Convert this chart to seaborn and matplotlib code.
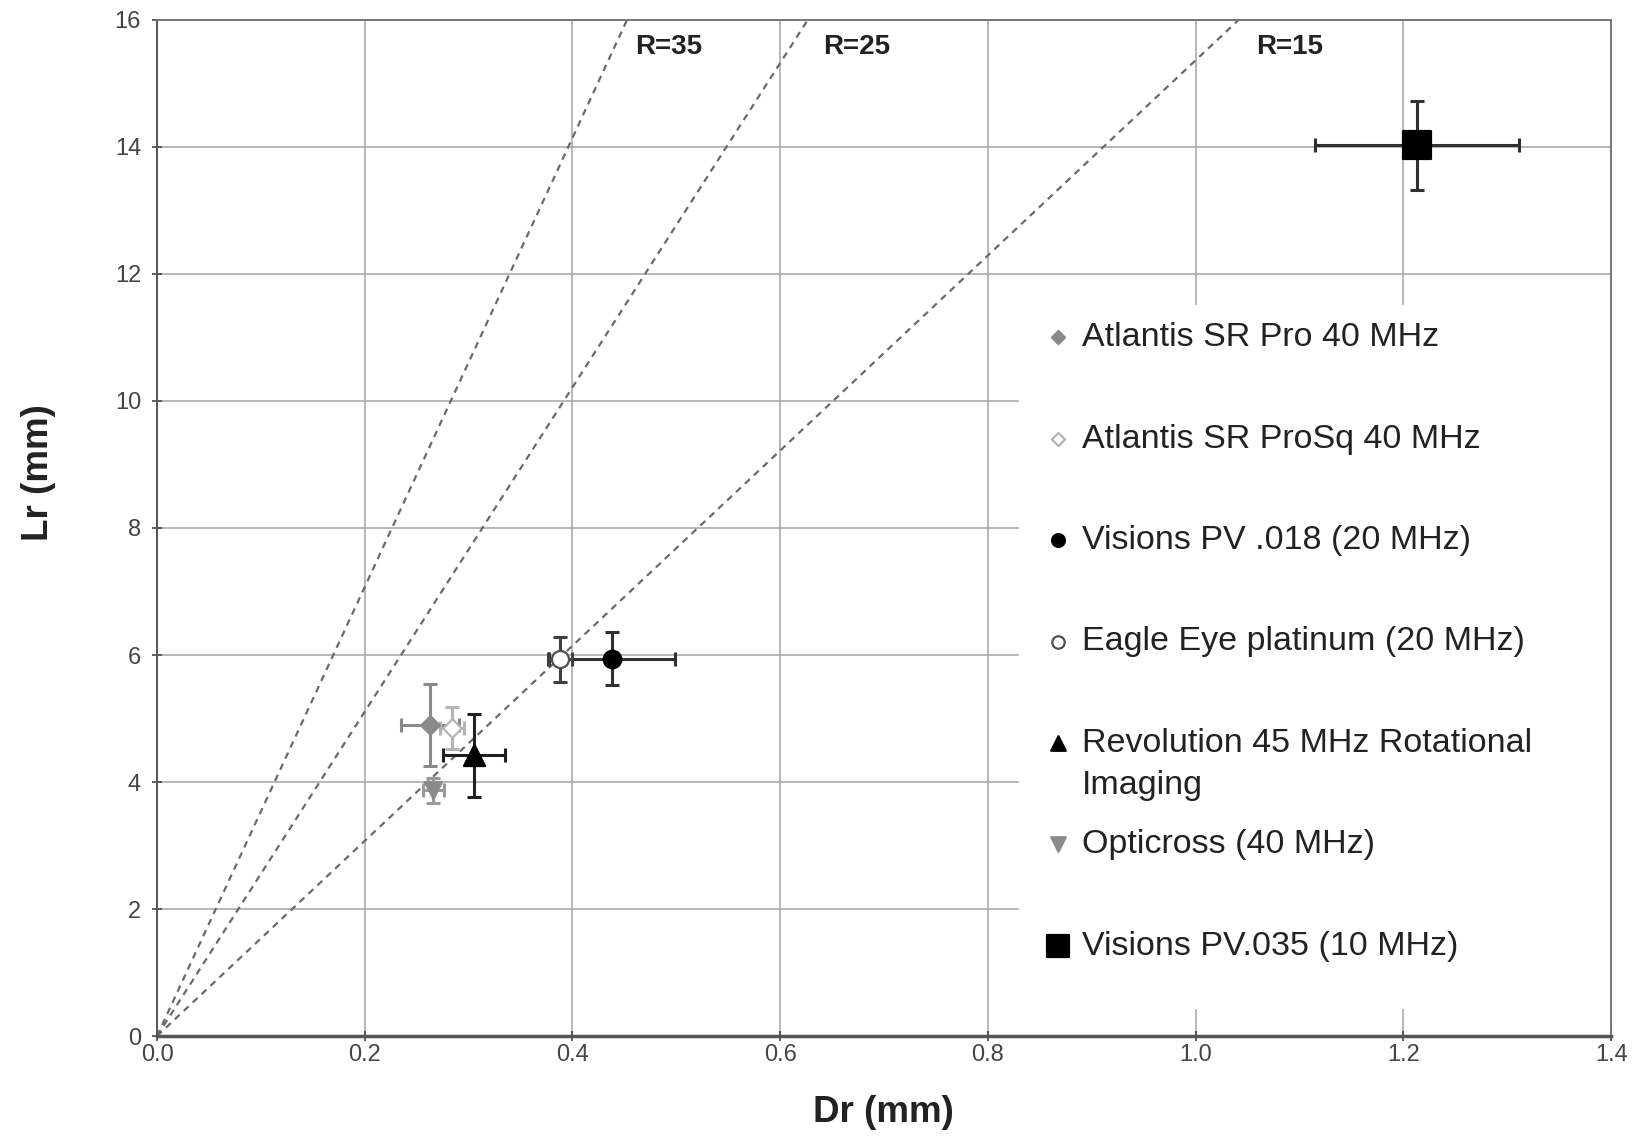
import matplotlib
matplotlib.use("Agg")
import matplotlib.pyplot as plt
from matplotlib.patches import Rectangle
from matplotlib.transforms import IdentityTransform
import seaborn as sns
import numpy as np
import pandas as pd

# device data (Dr, Lr in mm) with +/- errors
devices = ['Atlantis SR Pro 40 MHz', 'Atlantis SR ProSq 40 MHz', 'Visions PV .018 (20 MHz)',
           'Eagle Eye platinum (20 MHz)', 'Revolution 45 MHz Rotational',
           'Opticross (40 MHz)', 'Visions PV.035 (10 MHz)']
wrapped_tail = 'Imaging'   # second line of the Revolution label, wrapped as in the original
dr = [0.263, 0.284, 0.438, 0.388, 0.305, 0.266, 1.213]
lr = [4.90, 4.85, 5.94, 5.93, 4.42, 3.87, 14.03]
dr_err = [0.028, 0.012, 0.061, 0.012, 0.030, 0.010, 0.098]
lr_err = [0.65, 0.33, 0.42, 0.35, 0.65, 0.20, 0.70]

# dashed ratio lines: from the origin to where they leave the top (Lr = 16)
ratio_labels = ['R=35', 'R=25', 'R=15']
ratio_top_dr = [0.4525, 0.6265, 1.0413]
ratio_label_x = [0.493, 0.674, 1.090]

# styling per device
markers = ['D', 'D', 'o', 'o', '^', 'v', 's']
faces = ['#8a8a8a', 'white', 'black', 'white', 'black', '#8a8a8a', 'black']
edges = ['#8a8a8a', '#b4b4b4', 'black', '#505050', 'black', '#8a8a8a', 'black']
bar_colors = ['#8a8a8a', '#b4b4b4', '#303030', '#404040', '#202020', '#9a9a9a', '#303030']
sizes = [90, 90, 160, 150, 230, 150, 380]
legend_sizes = [45, 45, 85, 80, 110, 110, 230]

sns.set_theme(style="whitegrid")
plt.rcParams['font.family'] = ['Liberation Sans', 'DejaVu Sans']

fig = plt.figure(figsize=(16.39, 11.40), dpi=100)
ax = fig.add_axes([0.0958, 0.0912, 0.8872, 0.8913])

for top, lab, lx in zip(ratio_top_dr, ratio_labels, ratio_label_x):
    sns.lineplot(x=[0.0, top], y=[0.0, 16.0], ax=ax, color='#6a6a6a', lw=1.6,
                 linestyle=(0, (3, 2.5)), zorder=2)
    ax.text(lx, 15.57, lab, ha='center', va='center', fontsize=20,
            fontweight='bold', color='#222222')

df = pd.DataFrame({'device': devices, 'dr': dr, 'lr': lr, 'dr_err': dr_err, 'lr_err': lr_err})
for i, row in df.iterrows():
    ax.errorbar(row.dr, row.lr, xerr=row.dr_err, yerr=row.lr_err, fmt='none',
                ecolor=bar_colors[i], elinewidth=2.2, capsize=5, capthick=2.2, zorder=3)
    sns.scatterplot(x=[row.dr], y=[row.lr], ax=ax, marker=markers[i], s=sizes[i],
                    color=faces[i], edgecolor=edges[i], linewidth=1.6,
                    label=row.device, zorder=4)

ax.set_xlim(0, 1.4)
ax.set_ylim(0, 16)
ax.set_xticks(np.arange(0, 1.41, 0.2))
ax.set_yticks(np.arange(0, 16.1, 2))
ax.set_xticklabels([f'{v:.1f}' for v in np.arange(0, 1.41, 0.2)])
ax.tick_params(labelsize=17, colors='#444444', length=7, direction='inout',
               bottom=True, left=True, width=1.2)
ax.tick_params(axis='y', pad=8)
ax.tick_params(axis='x', pad=2)
ax.grid(True, color='#aaaaaa', lw=1.2)
for s in ax.spines.values():
    s.set_color('#777777')
    s.set_linewidth(1.4)
ax.spines['bottom'].set_color('#555555')
ax.spines['bottom'].set_linewidth(2.5)
ax.spines['left'].set_color('#555555')

# white panel behind the legend hides the grid there
ax.add_patch(Rectangle((0.593, 0.0266), 0.407, 0.693, transform=ax.transAxes,
                       facecolor='white', edgecolor='none', zorder=1))

ax.set_xlabel('Dr (mm)', fontsize=26.5, fontweight='bold', color='#222222')
ax.set_ylabel('Lr (mm)', fontsize=26.5, fontweight='bold', color='#222222')
ax.xaxis.set_label_coords(0.4995, -0.058)
ax.yaxis.set_label_coords(-0.0695, 0.555)

leg = ax.legend(loc='upper left', bbox_to_anchor=(0.6116, 0.7026), fontsize=24.5,
                frameon=False, handlelength=0.7, handletextpad=0.35,
                labelspacing=2.07, borderpad=0, borderaxespad=0)
leg.set_zorder(5)
for h, sz in zip(leg.legend_handles, legend_sizes):
    h.set_sizes([sz])
for t in leg.get_texts():
    t.set_color('#222222')

# wrapped second line under the Revolution entry
fig.canvas.draw()
bb = leg.get_texts()[4].get_window_extent()
fig.text(bb.x0, bb.y0 - 42, wrapped_tail, transform=IdentityTransform(),
         ha='left', va='bottom', fontsize=24.5, color='#222222', zorder=6)

fig.savefig('out.png', dpi=100)
